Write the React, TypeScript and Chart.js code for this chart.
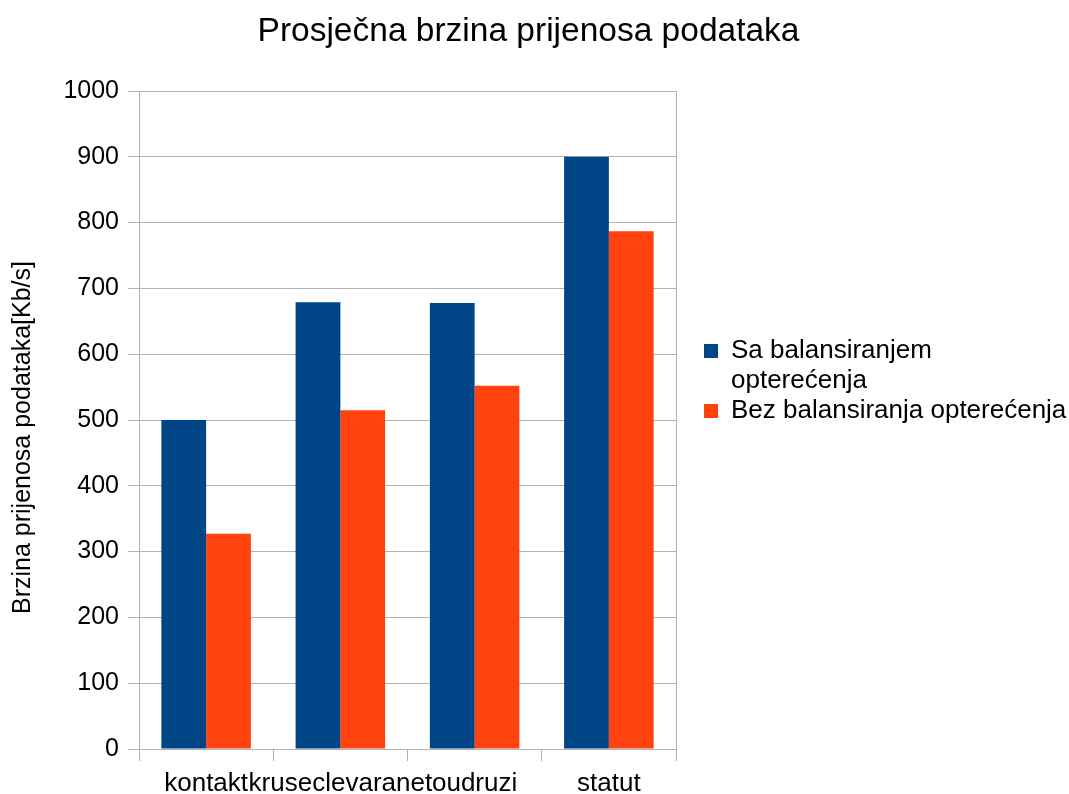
import React, { useEffect, useRef } from "react";
import { Chart, registerables } from "chart.js";

Chart.register(...registerables);

const chartTitle = "Prosječna brzina prijenosa podataka";
const yAxisTitle = "Brzina prijenosa podataka[Kb/s]";
const categories = ["kontakt", "kruseclevaranet", "oudruzi", "statut"];
const seriesWithLabel = ["Sa balansiranjem", "opterećenja"];
const seriesWithoutLabel = "Bez balansiranja opterećenja";
const withBalancing = [500, 679, 678, 900];
const withoutBalancing = [327, 515, 552, 787];
const yMin = 0;
const yMax = 1000;
const yStep = 100;

const FONT = "'Liberation Sans', Arial, sans-serif";
const GRID = "#b3b3b3";

const textPlugin = {
  id: "textPlugin",
  afterDraw(chart: any) {
    const { ctx, chartArea } = chart;
    ctx.save();
    ctx.fillStyle = "#000";
    // chart title
    ctx.font = `33.5px ${FONT}`;
    ctx.textAlign = "center";
    ctx.textBaseline = "middle";
    ctx.fillText(chartTitle, 528.5, 31.7);
    // y axis title
    ctx.font = `25px ${FONT}`;
    ctx.textBaseline = "alphabetic";
    ctx.translate(chartArea.left - 109, (chartArea.top + chartArea.bottom) / 2 + 17.5);
    ctx.rotate(-Math.PI / 2);
    ctx.fillText(yAxisTitle, 0, 0);
    ctx.restore();
  },
};

export default function App() {
  const ref = useRef<HTMLCanvasElement | null>(null);

  useEffect(() => {
    if (!ref.current) return;
    Chart.defaults.font.family = FONT;
    Chart.defaults.color = "#000";
    const chart = new Chart(ref.current, {
      type: "bar",
      data: {
        labels: categories,
        datasets: [
          {
            label: seriesWithLabel as any,
            data: withBalancing,
            backgroundColor: "#004586",
            borderWidth: 0,
            categoryPercentage: 0.667,
            barPercentage: 1,
          },
          {
            label: seriesWithoutLabel,
            data: withoutBalancing,
            backgroundColor: "#ff420e",
            borderWidth: 0,
            categoryPercentage: 0.667,
            barPercentage: 1,
          },
        ],
      },
      options: {
        responsive: false,
        animation: false,
        devicePixelRatio: 1,
        layout: { padding: { left: 0, right: 0, top: 91, bottom: 0 } },
        plugins: {
          title: { display: false },
          legend: {
            display: true,
            position: "right",
            align: "start",
            maxWidth: 365,
            title: {
              display: true,
              text: " ",
              font: { size: 10, lineHeight: 1 },
              padding: { top: 237, bottom: 0 },
            },
            labels: {
              boxWidth: 14,
              boxHeight: 14,
              padding: 0,
              color: "#000",
              font: { size: 26, lineHeight: 30 / 26 },
            },
          },
          tooltip: { enabled: false },
        },
        scales: {
          x: {
            grid: {
              display: true,
              drawOnChartArea: false,
              offset: true,
              tickLength: 12,
              color: GRID,
            },
            border: { display: true, color: GRID },
            ticks: {
              autoSkip: false,
              maxRotation: 0,
              minRotation: 0,
              padding: 7,
              color: "#000",
              font: { size: 26 },
            },
            afterFit(scale: any) {
              scale.height = 45;
            },
          },
          y: {
            min: yMin,
            max: yMax,
            grid: { color: GRID, tickLength: 11 },
            border: { display: true, color: GRID },
            ticks: {
              stepSize: yStep,
              padding: 9,
              color: "#000",
              font: { size: 25 },
              callback: (v: any) => String(v),
            },
            afterFit(scale: any) {
              scale.width = 139;
            },
          },
          y2: {
            position: "right",
            display: true,
            grid: { display: false, drawOnChartArea: false, drawTicks: false },
            border: { display: true, color: GRID },
            ticks: { display: false },
            afterFit(scale: any) {
              scale.width = 28;
            },
          },
        },
      },
      plugins: [textPlugin],
    } as any);
    return () => chart.destroy();
  }, []);

  return (
    <div style={{ position: "fixed", left: 0, top: 0, width: 1069, height: 794, background: "#fff" }}>
      <canvas ref={ref} width={1069} height={794} style={{ width: 1069, height: 794, display: "block" }} />
    </div>
  );
}
